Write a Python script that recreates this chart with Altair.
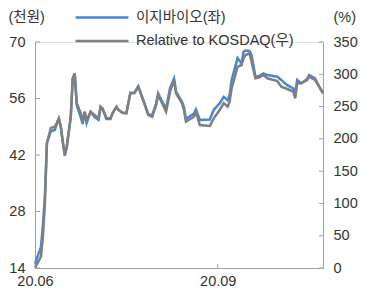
import altair as alt
import pandas as pd

# ---- data ----
dates = [
    "2020-06-01", "2020-06-04", "2020-06-05", "2020-06-06", "2020-06-07", "2020-06-09",
    "2020-06-11", "2020-06-12", "2020-06-13", "2020-06-14", "2020-06-15", "2020-06-16",
    "2020-06-17", "2020-06-19", "2020-06-20", "2020-06-21", "2020-06-22", "2020-06-24",
    "2020-06-25", "2020-06-26", "2020-06-27", "2020-06-29", "2020-07-01", "2020-07-03",
    "2020-07-04", "2020-07-05", "2020-07-07", "2020-07-09", "2020-07-10", "2020-07-12",
    "2020-07-13", "2020-07-15", "2020-07-17", "2020-07-19", "2020-07-21", "2020-07-23",
    "2020-07-26", "2020-07-28", "2020-07-30", "2020-08-01", "2020-08-02", "2020-08-04",
    "2020-08-06", "2020-08-08", "2020-08-10", "2020-08-11", "2020-08-14", "2020-08-15",
    "2020-08-16", "2020-08-20", "2020-08-21", "2020-08-23", "2020-08-28", "2020-08-30",
    "2020-09-02", "2020-09-04", "2020-09-06", "2020-09-07", "2020-09-08", "2020-09-11",
    "2020-09-13", "2020-09-14", "2020-09-15", "2020-09-17", "2020-09-18", "2020-09-20",
    "2020-09-22", "2020-09-24", "2020-09-26", "2020-10-01", "2020-10-03", "2020-10-06",
    "2020-10-09", "2020-10-10", "2020-10-11", "2020-10-13", "2020-10-16", "2020-10-17",
    "2020-10-20", "2020-10-22", "2020-10-24",
]
price = [
    15.1, 19.2, 24.7, 32.1, 45.0, 47.9,
    48.2, 49.7, 51.0, 48.9, 45.2, 41.8,
    44.0, 51.4, 60.8, 62.1, 54.4, 51.4,
    49.7, 52.7, 49.9, 52.7, 51.4, 50.7,
    53.9, 53.4, 50.9, 50.9, 52.3, 53.9,
    53.2, 52.5, 52.4, 57.4, 57.4, 59.0,
    54.9, 52.2, 51.8, 54.8, 57.3, 55.3,
    53.5, 58.6, 61.0, 57.7, 55.2, 53.9,
    50.9, 52.3, 53.3, 50.7, 50.8, 53.2,
    54.8, 56.4, 55.6, 56.9, 60.6, 66.0,
    64.7, 67.6, 67.9, 67.8, 66.8, 61.4,
    61.6, 62.2, 61.8, 61.4, 60.6, 59.3,
    58.5, 57.3, 60.6, 59.8, 60.8, 61.8,
    61.0, 59.1, 57.3,
]
relative = [
    0.0, 17.5, 48.5, 100.7, 193.6, 216.8,
    218.8, 225.0, 231.8, 218.8, 195.6, 175.0,
    187.9, 234.3, 293.8, 301.5, 255.5, 240.0,
    226.6, 242.1, 229.2, 242.1, 236.9, 231.8,
    249.8, 247.3, 231.8, 231.8, 239.6, 249.8,
    244.7, 240.5, 239.6, 270.6, 270.6, 280.8,
    255.1, 236.9, 234.3, 252.4, 267.9, 255.1,
    242.1, 273.0, 291.1, 270.6, 255.1, 244.7,
    226.6, 234.3, 242.1, 221.5, 219.9, 231.8,
    244.7, 255.1, 249.8, 257.5, 278.3, 311.7,
    314.4, 325.2, 329.9, 332.5, 319.5, 293.8,
    295.3, 298.9, 293.8, 289.6, 280.8, 277.2,
    273.0, 262.8, 286.0, 286.0, 291.1, 296.3,
    291.1, 280.8, 270.6,
]
series_names = ["이지바이오(좌)", "Relative to KOSDAQ(우)"]
series_colors = ["#4a86d6", "#7f7f7f"]
left_ticks = [14, 28, 42, 56, 70]
right_ticks = [0, 50, 100, 150, 200, 250, 300, 350]
x_tick_dates = ["2020-06-01", "2020-09-01"]
x_domain = ["2020-06-01", "2020-10-24"]

df_price = pd.DataFrame({"date": dates, "value": price, "series": series_names[0]})
df_rel = pd.DataFrame({"date": dates, "value": relative, "series": series_names[1]})
df_lt = pd.DataFrame({"v": left_ticks})
df_rt = pd.DataFrame({"v": right_ticks})
df_xt = pd.DataFrame({"date": x_tick_dates})

W, H = 288, 226
PAD_L, PAD_T = 27, 34
FONT = "Liberation Sans, 'Noto Sans CJK KR', sans-serif"
FS = 14.5
AXIS_C = "#a0a0a0"
TEXT_C = "#333333"

x_enc = alt.X(
    "date:T",
    scale=alt.Scale(domain=x_domain),
    axis=alt.Axis(
        values=[alt.DateTime(year=2020, month=6, date=1), alt.DateTime(year=2020, month=9, date=1)],
        format="%y.%m", title=None, ticks=False, grid=False, labelFlush=False,
        labelPadding=6, domainColor=AXIS_C, labelColor=TEXT_C, labelFontSize=FS, labelFont=FONT,
    ),
)

color_enc = alt.Color(
    "series:N",
    scale=alt.Scale(domain=series_names, range=series_colors),
    legend=alt.Legend(
        orient="none", legendX=39, legendY=-32.5, title=None, symbolType="stroke",
        symbolSize=2809, symbolStrokeWidth=2.5, labelFontSize=FS, labelFont=FONT,
        labelColor=TEXT_C, labelOffset=6, clipHeight=16, rowPadding=7.5, padding=0,
        labelLimit=300,
    ),
)

price_line = alt.Chart(df_price).mark_line(strokeWidth=2.5).encode(
    x=x_enc,
    y=alt.Y(
        "value:Q",
        scale=alt.Scale(domain=[14, 70], nice=False, zero=False),
        axis=alt.Axis(
            orient="left", values=left_ticks, ticks=False, grid=False, labelPadding=10,
            domainColor=AXIS_C, labelColor=TEXT_C, labelFontSize=FS, labelFont=FONT,
            title="(천원)", titleAngle=0, titleAlign="left", titleBaseline="middle",
            titleX=-27, titleY=-25, titleFontSize=FS, titleFontWeight="normal",
            titleColor=TEXT_C, titleFont=FONT,
        ),
    ),
    color=color_enc,
)

rel_line = alt.Chart(df_rel).mark_line(strokeWidth=2.5).encode(
    x=x_enc,
    y=alt.Y(
        "value:Q",
        scale=alt.Scale(domain=[0, 350], nice=False),
        axis=alt.Axis(
            orient="right", values=right_ticks, ticks=False, grid=False, labelPadding=10,
            domainColor=AXIS_C, labelColor=TEXT_C, labelFontSize=FS, labelFont=FONT,
            title="(%)", titleAngle=0, titleAlign="left", titleBaseline="middle",
            titleX=10, titleY=-25, titleFontSize=FS, titleFontWeight="normal",
            titleColor=TEXT_C, titleFont=FONT,
        ),
    ),
    color=color_enc,
)

lt_rules = alt.Chart(df_lt).mark_rule(color=AXIS_C, strokeWidth=1).encode(
    y=alt.Y("v:Q", scale=alt.Scale(domain=[14, 70], nice=False, zero=False), axis=None),
    x=alt.value(0), x2=alt.value(5),
)
rt_rules = alt.Chart(df_rt).mark_rule(color=AXIS_C, strokeWidth=1).encode(
    y=alt.Y("v:Q", scale=alt.Scale(domain=[0, 350], nice=False), axis=None),
    x=alt.value(W), x2=alt.value(W - 4),
)
xt_rules = alt.Chart(df_xt).mark_rule(color=AXIS_C, strokeWidth=1).encode(
    x=x_enc, y=alt.value(H), y2=alt.value(H - 4),
)

chart = alt.layer(price_line, rel_line, lt_rules, rt_rules, xt_rules).resolve_scale(
    y="independent"
).properties(
    width=W, height=H,
    autosize=alt.AutoSizeParams(type="none"),
    padding={"left": PAD_L, "top": PAD_T, "right": 350 - PAD_L - W, "bottom": 23},
).configure_view(stroke=None).configure(background="white")

chart.save("out.html", embed_options={"renderer": "svg", "actions": False})
